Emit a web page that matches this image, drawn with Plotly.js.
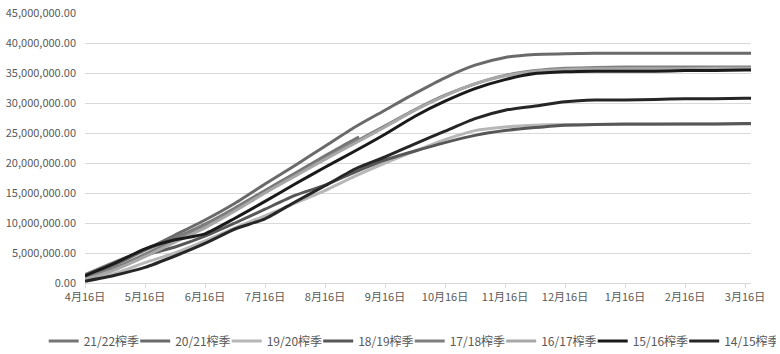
<!DOCTYPE html>
<html>
<head>
<meta charset="utf-8">
<script src="https://cdn.plot.ly/plotly-3.0.1.min.js"></script>
<style>html,body{margin:0;padding:0;background:#fff;}#chart{width:780px;height:354px;}</style>
</head>
<body>
<div id="chart"></div>
<script>
// month labels (ticks)
const tickLabels = ["4月16日","5月16日","6月16日","7月16日","8月16日","9月16日","10月16日","11月16日","12月16日","1月16日","2月16日","3月16日"];
// x positions in months after 4月16日 (half-month sampling)
const monthsFull = [0,0.5,1,1.5,2,2.5,3,3.5,4,4.5,5,5.5,6,6.5,7,7.5,8,8.5,9,9.5,10,10.5,11,11.1];
const months2122 = [0,0.5,1,1.5,2,2.5,3,3.5,4,4.5,4.57];

const s2122 = [1.4,3.5,5.5,7.5,9.8,12.5,15.4,18.3,21.2,24.0,24.3];
const s2021 = [1.0,3.0,5.5,8.0,10.5,13.3,16.5,19.6,22.8,26.0,28.8,31.6,34.2,36.3,37.6,38.1,38.2,38.3,38.3,38.3,38.3,38.3,38.3,38.3];
const s1920 = [0.5,1.6,3.4,5.0,7.0,9.2,11.2,13.3,15.4,17.8,20.0,22.0,23.9,25.4,26.0,26.3,26.4,26.4,26.4,26.4,26.5,26.5,26.5,26.5];
const s1819 = [0.8,2.4,4.6,6.0,7.8,10.0,12.3,14.6,16.3,18.5,20.5,22.0,23.4,24.6,25.4,25.9,26.3,26.4,26.5,26.5,26.5,26.5,26.6,26.6];
const s1718 = [0.8,2.5,4.8,7.2,9.6,12.3,15.2,18.0,20.8,23.5,26.2,28.9,31.3,33.2,34.6,35.4,35.8,35.9,36.0,36.0,36.0,36.0,36.0,36.0];
const s1617 = [0.6,2.2,4.4,6.8,9.2,12.0,15.0,17.8,20.6,23.3,26.0,28.8,31.2,33.2,34.5,35.3,35.6,35.7,35.7,35.7,35.7,35.8,35.8,35.8];
const s1516 = [1.2,3.3,5.7,7.2,8.2,10.8,13.6,16.5,19.3,22.0,24.8,27.8,30.3,32.4,33.9,34.9,35.2,35.3,35.3,35.3,35.4,35.4,35.5,35.5];
const s1415 = [0.3,1.3,2.6,4.5,6.6,9.0,10.7,13.5,16.2,19.0,21.0,23.2,25.3,27.4,28.8,29.5,30.2,30.5,30.5,30.6,30.7,30.7,30.8,30.8];

const seriesNames = ["21/22榨季","20/21榨季","19/20榨季","18/19榨季","17/18榨季","16/17榨季","15/16榨季","14/15榨季"];
const seriesData = [s2122,s2021,s1920,s1819,s1718,s1617,s1516,s1415];
const seriesX = [months2122,monthsFull,monthsFull,monthsFull,monthsFull,monthsFull,monthsFull,monthsFull];
const colors = ["#767676","#6a6a6a","#b7b7b7","#575757","#808080","#a8a8a8","#1a1a1a","#262626"];

const traces = seriesNames.map((n,i)=>({
  type:'scatter', mode:'lines', name:n,
  x: seriesX[i],
  y: seriesData[i].map(v=>v*1e6),
  line:{color:colors[i], width:3, shape:'spline', smoothing:0.6},
  hoverinfo:'skip'
}));

const layout = {
  width:780, height:354,
  margin:{l:85, r:29, t:13, b:71, autoexpand:false},
  paper_bgcolor:'#fff', plot_bgcolor:'#fff',
  font:{family:'"Noto Sans CJK SC", "Noto Sans", sans-serif', size:11, color:'#595959'},
  showlegend:true,
  legend:{orientation:'h', x:-0.062, xanchor:'left', y:-0.215, yanchor:'middle',
    font:{size:12, color:'#595959'}, entrywidth:46.5, entrywidthmode:'pixels', itemwidth:30, traceorder:'normal'},
  xaxis:{range:[0,11.1], tickmode:'array', tickvals:tickLabels.map((_,i)=>i), ticktext:tickLabels,
    showgrid:false, zeroline:false, showline:true, linecolor:'#d9d9d9', linewidth:1,
    ticks:'outside', ticklen:4, tickcolor:'#d9d9d9', tickfont:{size:11,color:'#595959'}},
  yaxis:{range:[0,45000000], dtick:5000000, tickformat:',.2f', showgrid:true, gridcolor:'#d9d9d9', gridwidth:1,
    zeroline:false, showline:false, ticks:'', ticklabelstandoff:8, tickfont:{size:11,color:'#595959'}}
};

Plotly.newPlot('chart', traces, layout, {staticPlot:true, displayModeBar:false});
</script>
</body>
</html>
